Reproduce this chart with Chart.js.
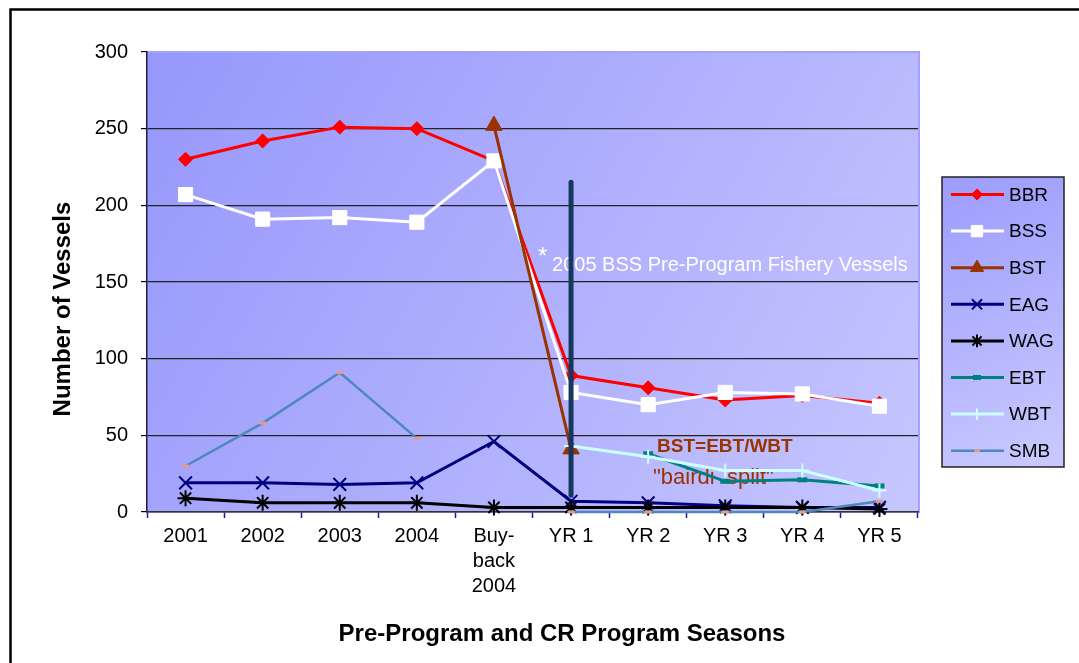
<!DOCTYPE html>
<html>
<head>
<meta charset="utf-8">
<script src="https://cdn.jsdelivr.net/npm/chart.js@4.4.0/dist/chart.umd.min.js"></script>
<style>
  html, body { margin: 0; padding: 0; background: #fff; }
  #wrap { width: 1079px; height: 663px; position: relative; }
</style>
</head>
<body>
<div id="wrap"><canvas id="chart" width="1079" height="663"></canvas></div>
<script>
// ===== DATA =====
const categories = ['2001', '2002', '2003', '2004', ['Buy-', 'back', '2004'], 'YR 1', 'YR 2', 'YR 3', 'YR 4', 'YR 5'];
const bbr = [230, 242, 251, 250, 229, 89, 81, 73, 76, 71];
const bss = [207, 191, 192, 189, 229, 78, 70, 78, 77, 69];
const bst = [null, null, null, null, 252, 41, null, null, null, null];
const eag = [19, 19, 18, 19, 46, 7, 6, 4, 3, 3];
const wag = [9, 6, 6, 6, 3, 3, 3, 3, 3, 2];
const ebt = [null, null, null, null, null, null, 38, 20, 21, 17];
const wbt = [null, null, null, null, null, 43, 36, 27, 27, 14];
const smb = [30, 58, 91, 48, null, 0, 0, 0, 0, 7];
const yMin = 0, yMax = 300, yStep = 50;
// vertical marker at YR 1 (from / to, in vessels)
const markerCategory = 5;
const markerRange = [215, 11];

const FONT = "'Liberation Sans', Arial, sans-serif";

function series(label, data, color, style, extra) {
  return Object.assign({
    label: label,
    data: data,
    borderColor: color,
    backgroundColor: color,
    borderWidth: 3,
    pointStyle: style,
    pointBackgroundColor: color,
    pointBorderColor: color,
    pointBorderWidth: 1,
    pointRadius: 7,
    tension: 0,
    clip: false
  }, extra || {});
}

const datasets = [
  series('BBR', bbr, '#ff0000', 'rectRot', { pointRadius: 7 }),
  series('BSS', bss, '#ffffff', 'rect', { pointRadius: 10 }),
  series('BST', bst, '#993300', 'triangle', { pointRadius: 9.5 }),
  series('EAG', eag, '#000080', 'crossRot', { pointRadius: 9, pointBorderWidth: 2 }),
  series('WAG', wag, '#000000', 'star', { pointRadius: 8, pointBorderWidth: 2 }),
  series('EBT', ebt, '#008080', 'line', { pointRadius: 5, pointBorderWidth: 5 }),
  series('WBT', wbt, '#ccffff', 'cross', { pointRadius: 7, pointBorderWidth: 2 }),
  series('SMB', smb, '#4f88bb', 'line', { pointRadius: 3.5, pointBorderWidth: 3, borderWidth: 2.5,
    pointBorderColor: '#e39c8c', pointBackgroundColor: '#e39c8c' })
];
// later series on top, like the original
datasets.forEach((d, i) => { d.order = datasets.length - i; });

// ===== PLUGINS =====
const backdrop = {
  id: 'backdrop',
  beforeDraw(chart) {
    const { ctx, chartArea: a } = chart;
    ctx.save();
    ctx.fillStyle = '#ffffff';
    ctx.fillRect(0, 0, chart.width, chart.height);
    ctx.strokeStyle = '#000';
    ctx.lineWidth = 2.5;
    ctx.strokeRect(10.5, 9.5, chart.width + 20, chart.height + 20);
    const g = ctx.createLinearGradient(a.left, a.top, a.right, a.bottom);
    g.addColorStop(0, '#9797fc');
    g.addColorStop(1, '#c6c6ff');
    ctx.fillStyle = g;
    ctx.fillRect(a.left, a.top, a.right - a.left, a.bottom - a.top);
    ctx.strokeStyle = '#a3a3ff';
    ctx.lineWidth = 2;
    ctx.strokeRect(a.left, a.top, a.right - a.left + 1, a.bottom - a.top);
    ctx.restore();
  },
  beforeDatasetsDraw(chart) {
    const { ctx, scales: { x, y } } = chart;
    const x1 = x.getPixelForValue(markerCategory);
    ctx.save();
    ctx.textBaseline = 'middle';
    ctx.textAlign = 'left';
    ctx.fillStyle = '#ffffff';
    ctx.font = '24px ' + FONT;
    ctx.fillText('*', x1 - 33, y.getPixelForValue(166));
    ctx.font = '20px ' + FONT;
    ctx.fillText('2005 BSS Pre-Program Fishery Vessels', x1 - 19, y.getPixelForValue(161));
    ctx.fillStyle = '#993300';
    ctx.font = 'bold 19px ' + FONT;
    ctx.fillText('BST=EBT/WBT', x1 + 86, y.getPixelForValue(42.5));
    ctx.font = '22px ' + FONT;
    ctx.fillText('"bairdi  split"', x1 + 82, y.getPixelForValue(22));
    ctx.restore();
  },
  afterDatasetsDraw(chart) {
    const { ctx, scales: { x, y } } = chart;
    const px = x.getPixelForValue(markerCategory);
    ctx.save();
    ctx.strokeStyle = '#17375e';
    ctx.lineWidth = 5;
    ctx.lineCap = 'round';
    ctx.beginPath();
    ctx.moveTo(px, y.getPixelForValue(markerRange[0]));
    ctx.lineTo(px, y.getPixelForValue(markerRange[1]));
    ctx.stroke();
    ctx.restore();
  },
  afterDraw(chart) {
    const { ctx, chartArea: a } = chart;
    ctx.save();
    // axis titles
    ctx.fillStyle = '#000';
    ctx.font = 'bold 24px ' + FONT;
    ctx.textAlign = 'center';
    ctx.textBaseline = 'middle';
    ctx.fillText('Pre-Program and CR Program Seasons', 562, 634);
    ctx.translate(63, 309);
    ctx.rotate(-Math.PI / 2);
    ctx.fillText('Number of Vessels', 0, 0);
    ctx.setTransform(1, 0, 0, 1, 0, 0);

    // legend box
    const lx = 942, ly = 177, lw = 122, lh = 290;
    const g = ctx.createLinearGradient(lx, ly, lx + lw, ly + lh);
    g.addColorStop(0, '#9c9cfd');
    g.addColorStop(1, '#cacaff');
    ctx.fillStyle = g;
    ctx.fillRect(lx, ly, lw, lh);
    ctx.strokeStyle = '#222';
    ctx.lineWidth = 1.5;
    ctx.strokeRect(lx, ly, lw, lh);
    ctx.font = '19px ' + FONT;
    ctx.textAlign = 'left';
    chart.data.datasets.forEach((d, i) => {
      const cy = 194.5 + i * 36.6;
      ctx.strokeStyle = d.borderColor;
      ctx.lineWidth = d.borderWidth;
      ctx.beginPath();
      ctx.moveTo(951, cy);
      ctx.lineTo(1004, cy);
      ctx.stroke();
      ctx.fillStyle = d.pointBackgroundColor;
      ctx.strokeStyle = d.pointBorderColor;
      ctx.lineWidth = d.pointBorderWidth;
      Chart.helpers.drawPoint(ctx, {
        pointStyle: d.pointStyle,
        radius: d.pointRadius * 0.8,
        borderWidth: d.pointBorderWidth,
        rotation: 0
      }, 977, cy);
      ctx.fillStyle = '#000';
      ctx.fillText(d.label, 1009, cy + 1);
    });
    ctx.restore();
  }
};

// ===== CHART =====
new Chart(document.getElementById('chart'), {
  type: 'line',
  data: { labels: categories, datasets: datasets },
  options: {
    responsive: false,
    animation: false,
    layout: { padding: { left: 10, top: 52, right: 161, bottom: 0 } },
    plugins: {
      legend: { display: false },
      tooltip: { enabled: false }
    },
    scales: {
      x: {
        offset: true,
        grid: { offset: true, drawOnChartArea: false, drawTicks: true, tickLength: 6, tickColor: '#1c1c8c', tickWidth: 1.5 },
        border: { color: '#333', width: 1.5 },
        ticks: { color: '#000', padding: 6, maxRotation: 0, autoSkip: false,
          font: { family: FONT, size: 20, lineHeight: 1.24 } },
        afterFit(scale) { scale.height = 151; }
      },
      y: {
        min: yMin,
        max: yMax,
        ticks: { stepSize: yStep, color: '#000', padding: 13, font: { family: FONT, size: 20 } },
        grid: {
          color: (c) => (c.tick && (c.tick.value === yMax || c.tick.value === yMin)) ? 'rgba(0,0,0,0)' : '#222',
          lineWidth: 1.2,
          tickColor: '#000',
          tickLength: 6
        },
        border: { color: '#1a1a50', width: 1.5 },
        afterFit(scale) { scale.width = 137; }
      }
    }
  },
  plugins: [backdrop]
});
</script>
</body>
</html>
